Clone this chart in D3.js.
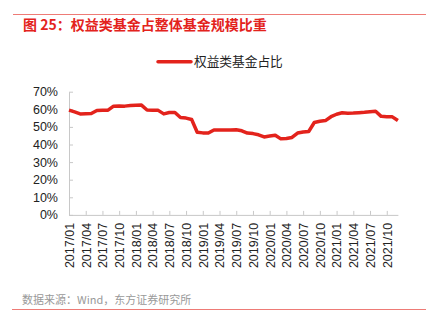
<!DOCTYPE html>
<html><head><meta charset="utf-8">
<script src="https://cdn.jsdelivr.net/npm/d3@7"></script>
<style>
html,body{margin:0;padding:0;background:#fff;}
svg{display:block;}
</style></head>
<body>
<svg id="c" width="426" height="323"></svg>
<script>
const title = "图 25：权益类基金占整体基金规模比重";
const source = "数据来源：Wind，东方证券研究所";
const seriesName = "权益类基金占比";
const months = [];
for (let y = 2017; y <= 2021; y++) for (let m = 1; m <= 12; m++) months.push(y + "/" + String(m).padStart(2, "0"));
const values = [
  59.5, 58.5, 57.4, 57.5, 57.6, 59.3, 59.4, 59.5, 61.8, 61.9, 61.8, 62.1,
  62.3, 62.4, 59.6, 59.5, 59.4, 57.4, 58.2, 58.2, 55.3, 55.0, 54.2, 47.0,
  46.6, 46.5, 48.2, 48.3, 48.3, 48.3, 48.4, 47.8, 46.5, 46.2, 45.5, 44.3,
  44.8, 45.3, 43.2, 43.4, 44.0, 46.5, 47.1, 47.4, 52.5, 53.2, 53.6, 55.8,
  57.2, 58.0, 57.8, 57.9, 58.1, 58.3, 58.6, 58.9, 56.0, 55.8, 55.7, 53.6
];
const yTicks = [0, 10, 20, 30, 40, 50, 60, 70];
const xTickLabels = months.filter((d, i) => i % 3 === 0 && i < 58);

const svg = d3.select("#c");
const red = "#e3231c";
const latin = "'Liberation Sans', Arial, 'Noto Sans CJK SC', sans-serif";
const cjk = "'Noto Sans CJK SC', 'Liberation Sans', sans-serif";

// top and bottom rules
svg.append("line").attr("x1", 13).attr("x2", 426).attr("y1", 14.5).attr("y2", 14.5)
  .attr("stroke", "#ee7b76").attr("stroke-width", 1.2);
svg.append("line").attr("x1", 12).attr("x2", 426).attr("y1", 309.5).attr("y2", 309.5)
  .attr("stroke", "#ee7b76").attr("stroke-width", 1.2);

svg.append("text").attr("x", 23).attr("y", 30).text(title)
  .attr("fill", red).attr("font-family", cjk).attr("font-weight", "bold").attr("font-size", 14);

svg.append("text").attr("x", 22).attr("y", 304).text(source)
  .attr("fill", "#999").attr("font-family", cjk).attr("font-size", 11);

const x = d3.scalePoint().domain(months).range([69, 397.9]);
const y = d3.scaleLinear().domain([0, 70]).range([214.9, 91.7]);

// y axis
const ya = svg.append("g").attr("transform", "translate(69,0)")
  .call(d3.axisLeft(y).tickValues(yTicks).tickFormat(d => d + "%").tickSizeInner(-4).tickSizeOuter(0).tickPadding(11));
ya.select(".domain").attr("stroke", "#c8c8c8");
ya.selectAll(".tick line").attr("stroke", "#c8c8c8");
ya.selectAll("text").attr("font-family", latin).attr("font-size", 12.5).attr("fill", "#222");

// x axis
const xa = svg.append("g").attr("transform", "translate(0,214.9)")
  .call(d3.axisBottom(x).tickValues(xTickLabels).tickSizeInner(-4).tickSizeOuter(0).tickPadding(0));
xa.select(".domain").attr("stroke", "#c8c8c8");
xa.selectAll(".tick line").attr("stroke", "#c8c8c8");
xa.selectAll("text").attr("font-family", latin).attr("font-size", 12.5).attr("fill", "#222")
  .attr("transform", "rotate(-90)").attr("text-anchor", "end").attr("dy", "0.35em").attr("x", -8).attr("y", 0);

// line
const line = d3.line().x((d, i) => x(months[i])).y(d => y(d));
svg.append("path").datum(values).attr("d", line).attr("fill", "none")
  .attr("stroke", red).attr("stroke-width", 3.5).attr("stroke-linejoin", "round");

// legend
svg.append("line").attr("x1", 158).attr("x2", 191).attr("y1", 61.7).attr("y2", 61.7)
  .attr("stroke", red).attr("stroke-width", 3.5).attr("stroke-linecap", "round");
svg.append("text").attr("x", 194).attr("y", 66.3).text(seriesName)
  .attr("font-family", cjk).attr("font-size", 12.7).attr("fill", "#222");
</script>
</body></html>
